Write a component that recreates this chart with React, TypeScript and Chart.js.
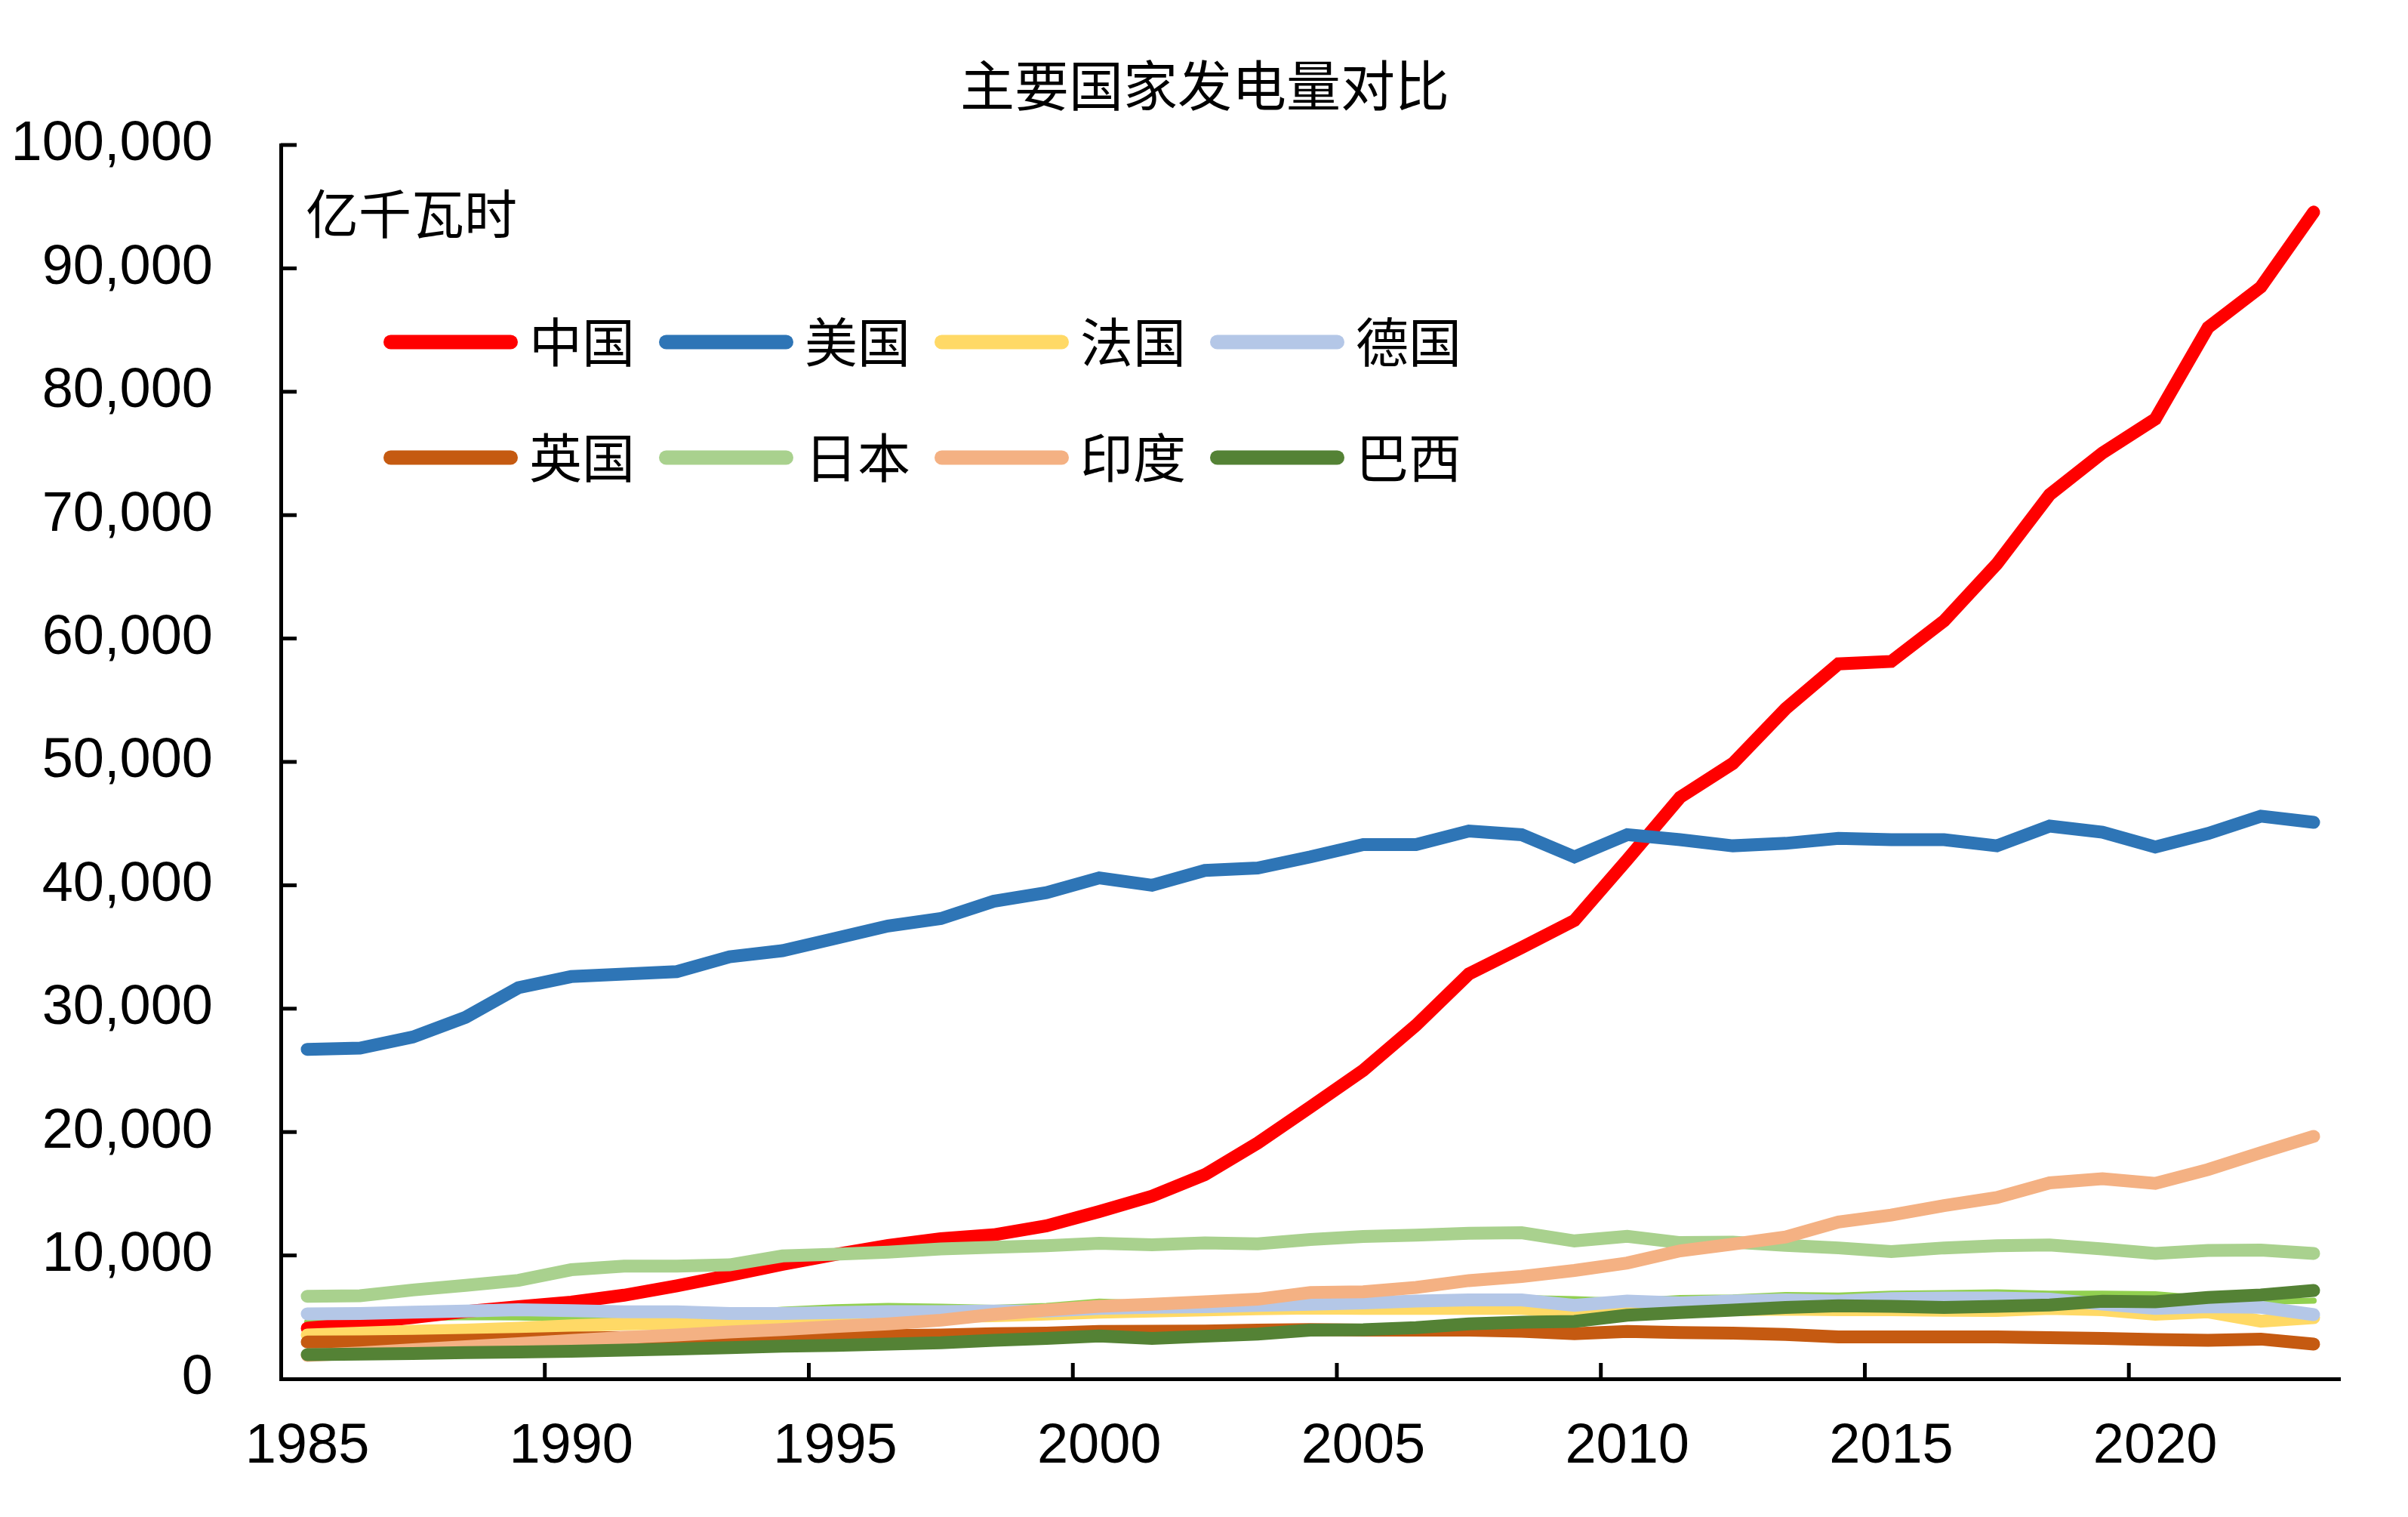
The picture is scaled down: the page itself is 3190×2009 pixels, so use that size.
import React, { useEffect, useRef } from 'react';
import { Chart, registerables } from 'chart.js';

Chart.register(...registerables);

const years = [
  '1985', '1986', '1987', '1988', '1989', '1990', '1991', '1992', '1993', '1994',
  '1995', '1996', '1997', '1998', '1999', '2000', '2001', '2002', '2003', '2004',
  '2005', '2006', '2007', '2008', '2009', '2010', '2011', '2012', '2013', '2014',
  '2015', '2016', '2017', '2018', '2019', '2020', '2021', '2022', '2023',
];

const china = [
  4107, 4495, 4973, 5452, 5848, 6212, 6775, 7539, 8395, 9281,
  10077, 10813, 11356, 11670, 12393, 13556, 14808, 16540, 19106, 22033,
  25003, 28657, 32816, 34958, 37147, 42072, 47130, 49876, 54316, 57945,
  58146, 61425, 66044, 71661, 75034, 77791, 85200, 88487, 94564,
];
const usa = [
  26700, 26800, 27700, 29300, 31700, 32600, 32800, 33000, 34200, 34700,
  35700, 36700, 37300, 38700, 39400, 40600, 40000, 41200, 41400, 42300,
  43300, 43300, 44400, 44100, 42300, 44100, 43700, 43200, 43400, 43800,
  43700, 43700, 43200, 44800, 44300, 43100, 44200, 45600, 45100,
];
const france = [
  3550, 3700, 3850, 3950, 4100, 4300, 4450, 4500, 4550, 4650,
  4950, 5130, 5050, 5110, 5240, 5400, 5500, 5590, 5670, 5740,
  5700, 5700, 5700, 5700, 5400, 5600, 5600, 5600, 5650, 5600,
  5600, 5560, 5540, 5700, 5600, 5240, 5430, 4670, 4950,
];
const germany = [
  5270, 5300, 5400, 5500, 5600, 5530, 5430, 5430, 5300, 5300,
  5370, 5450, 5450, 5500, 5500, 5700, 5800, 5850, 5950, 6050,
  6150, 6300, 6400, 6400, 5950, 6300, 6150, 6300, 6400, 6300,
  6500, 6550, 6550, 6450, 6050, 5700, 5850, 5800, 5200,
];
const uk = [
  2980, 3000, 3050, 3120, 3200, 3300, 3350, 3350, 3400, 3420,
  3430, 3500, 3550, 3650, 3700, 3840, 3850, 3870, 3950, 4000,
  3950, 3950, 3940, 3850, 3650, 3840, 3750, 3700, 3600, 3400,
  3390, 3390, 3390, 3330, 3270, 3180, 3120, 3220, 2820,
];
const japan = [
  6690, 6730, 7200, 7570, 7980, 8840, 9140, 9140, 9240, 9960,
  10100, 10270, 10530, 10670, 10780, 10980, 10860, 11020, 10940, 11290,
  11530, 11650, 11800, 11840, 11180, 11550, 11040, 11080, 10820, 10610,
  10310, 10610, 10780, 10840, 10530, 10160, 10410, 10430, 10160,
];
const india = [
  1900, 2100, 2350, 2600, 2850, 3100, 3350, 3550, 3800, 4000,
  4240, 4450, 4750, 5220, 5570, 5880, 6040, 6240, 6450, 7000,
  7060, 7410, 7960, 8290, 8780, 9390, 10370, 10920, 11490, 12710,
  13270, 14040, 14690, 15880, 16220, 15840, 16960, 18330, 19650,
];
const brazil = [
  1960, 2000, 2050, 2120, 2180, 2240, 2330, 2420, 2520, 2650,
  2710, 2820, 2920, 3120, 3270, 3470, 3270, 3450, 3630, 3940,
  3980, 4140, 4450, 4590, 4650, 5160, 5370, 5570, 5780, 5920,
  5880, 5780, 5880, 5980, 6290, 6240, 6590, 6800, 7160,
];
const canada = [
  4610, 4700, 4900, 5000, 4980, 4860, 5050, 5150, 5300, 5600,
  5800, 5900, 5850, 5750, 5900, 6250, 6100, 6150, 6100, 6250,
  6350, 6250, 6450, 6550, 6450, 6300, 6550, 6600, 6800, 6750,
  6900, 6950, 7000, 6900, 6900, 6850, 6500, 6250, 6330,
];

const legendNames = ['中国', '美国', '法国', '德国', '英国', '日本', '印度', '巴西'];
const titleText = '主要国家发电量对比';
const unitText = '亿千瓦时';

const CJK = '"Noto Sans CJK SC", "Noto Sans CJK JP", sans-serif';
const LATIN = '"Liberation Sans", Arial, sans-serif';

const decorPlugin = {
  id: 'decor',
  afterDraw(chart: any) {
    const ctx = chart.ctx;
    const xs = chart.scales.x;
    const ys = chart.scales.y;
    const area = chart.chartArea;
    ctx.save();
    // inward tick marks
    ctx.strokeStyle = '#000';
    ctx.lineWidth = 5;
    ctx.lineCap = 'butt';
    ys.ticks.forEach((t: any) => {
      const py = ys.getPixelForValue(t.value);
      if (t.value === 0) return;
      ctx.beginPath();
      ctx.moveTo(area.left, py);
      ctx.lineTo(area.left + 21, py);
      ctx.stroke();
    });
    const half = (xs.getPixelForValue(1) - xs.getPixelForValue(0)) / 2;
    for (let i = 5; i < years.length; i += 5) {
      const px = xs.getPixelForValue(i) - half;
      ctx.beginPath();
      ctx.moveTo(px, area.bottom);
      ctx.lineTo(px, area.bottom - 21);
      ctx.stroke();
    }
    // title
    ctx.fillStyle = '#000';
    ctx.textBaseline = 'middle';
    ctx.textAlign = 'center';
    ctx.font = `72px ${CJK}`;
    ctx.fillText(titleText, 1596, 113);
    // unit
    ctx.textAlign = 'left';
    ctx.font = `70px ${CJK}`;
    ctx.fillText(unitText, 405, 283);
    // legend
    legendNames.forEach((name, idx) => {
      const ds = chart.data.datasets.find((d: any) => d.label === name);
      const r = Math.floor(idx / 4);
      const c = idx % 4;
      const lx = 508 + c * 365;
      const ly = 453 + r * 153;
      ctx.strokeStyle = ds.borderColor;
      ctx.lineWidth = 19;
      ctx.lineCap = 'round';
      ctx.beginPath();
      ctx.moveTo(lx + 9.5, ly);
      ctx.lineTo(lx + 178 - 9.5, ly);
      ctx.stroke();
      ctx.fillStyle = '#000';
      ctx.font = `70px ${CJK}`;
      ctx.fillText(name, lx + 193, ly);
    });
    ctx.restore();
  },
};

function mk(label: string, data: number[], color: string, order: number, width = 17) {
  return {
    label,
    data,
    borderColor: color,
    backgroundColor: color,
    borderWidth: width,
    pointRadius: 0,
    pointHoverRadius: 0,
    borderCapStyle: 'round' as const,
    borderJoinStyle: 'miter' as const,
    tension: 0,
    fill: false,
    order,
  };
}

export default function App() {
  const ref = useRef<HTMLCanvasElement | null>(null);
  useEffect(() => {
    document.body.style.margin = '0';
    const canvas = ref.current!;
    const chart = new Chart(canvas, {
      type: 'line',
      data: {
        labels: years,
        datasets: [
          mk('加拿大', canada, '#92D050', 8, 8),
          mk('中国', china, '#FF0000', 7),
          mk('美国', usa, '#2E75B6', 6),
          mk('法国', france, '#FFD966', 5),
          mk('德国', germany, '#B4C7E7', 4),
          mk('英国', uk, '#C55A11', 3),
          mk('日本', japan, '#A9D18E', 2),
          mk('印度', india, '#F4B183', 1),
          mk('巴西', brazil, '#548235', 0),
        ],
      },
      options: {
        responsive: false,
        devicePixelRatio: 1,
        animation: false,
        events: [],
        layout: { padding: { left: 0, top: 192, right: 90, bottom: 0 } },
        plugins: {
          legend: { display: false },
          tooltip: { enabled: false },
          title: { display: false },
        },
        scales: {
          x: {
            type: 'category',
            offset: true,
            grid: { display: false, drawTicks: false },
            border: { display: true, color: '#000', width: 5 },
            ticks: {
              autoSkip: false,
              maxRotation: 0,
              minRotation: 0,
              color: '#000',
              padding: 46,
              font: { family: LATIN, size: 74 },
              callback: (_v: any, idx: number) => (idx % 5 === 0 ? years[idx] : ''),
            },
            afterFit: (s: any) => {
              s.height = 183;
            },
          },
          y: {
            min: 0,
            max: 100000,
            grid: { display: false, drawTicks: false },
            border: { display: true, color: '#000', width: 5 },
            ticks: {
              stepSize: 10000,
              color: '#000',
              padding: 90,
              font: { family: LATIN, size: 74 },
              callback: (v: any) => Number(v).toLocaleString('en-US'),
            },
            afterFit: (s: any) => {
              s.width = 372;
            },
          },
        },
      },
      plugins: [decorPlugin],
    });
    return () => chart.destroy();
  }, []);
  return <canvas ref={ref} width={3190} height={2009} style={{ display: 'block' }} />;
}
